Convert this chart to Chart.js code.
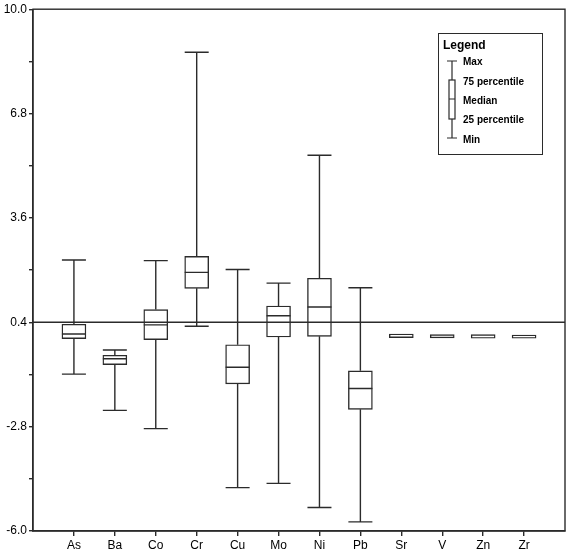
<!DOCTYPE html>
<html>
<head>
<meta charset="utf-8">
<script src="https://cdn.jsdelivr.net/npm/chart.js@4.4.0/dist/chart.umd.min.js"></script>
<style>
  body { margin: 0; background: #fff; }
  #wrap { width: 567px; height: 553px; }
</style>
</head>
<body>
<div id="wrap"><canvas id="myChart"></canvas></div>
<script>
// box plot values
var categories = ["As", "Ba", "Co", "Cr", "Cu", "Mo", "Ni", "Pb", "Sr", "V", "Zn", "Zr"];
var minVals    = [-1.19, -2.30, -2.86, 0.28, -4.67, -4.54, -5.28, -5.72, -0.07, -0.08, -0.09, -0.09];
var q1Vals     = [-0.10, -0.90, -0.13, 1.44, -1.49, -0.05, -0.03, -2.27, -0.07, -0.08, -0.09, -0.09];
var medianVals = [0.04, -0.72, 0.32, 1.93, -0.98, 0.60, 0.87, -1.63, -0.02, -0.03, -0.04, -0.04];
var q3Vals     = [0.34, -0.61, 0.79, 2.42, -0.29, 0.90, 1.75, -1.09, 0.04, 0.02, 0.02, 0.01];
var maxVals    = [2.31, -0.45, 2.29, 8.68, 2.02, 1.60, 5.52, 1.46, 0.04, 0.02, 0.02, 0.01];

var refValue = 0.4;
var yTicks = [-6.0, -4.4, -2.8, -1.2, 0.4, 2.0, 3.6, 5.2, 6.8, 8.4, 10.0];
var yTickLabels = [-6.0, -2.8, 0.4, 3.6, 6.8, 10.0];

var legendLabels = ["Max", "75 percentile", "Median", "25 percentile", "Min"];

var lineColor = "#2b2b2b";

var boxData = categories.map(function(c, i) {
  return { x: i, y: [q1Vals[i], q3Vals[i]] };
});

// whiskers, caps and median lines
var whiskerPlugin = {
  id: "whiskers",
  afterDatasetsDraw: function(chart) {
    var ctx = chart.ctx;
    var xs = chart.scales.x, ys = chart.scales.y;
    var half = 12;
    ctx.save();
    ctx.strokeStyle = lineColor;
    ctx.lineWidth = 1.4;
    for (var i = 0; i < categories.length; i++) {
      var x = xs.getPixelForValue(i);
      var yMax = ys.getPixelForValue(maxVals[i]);
      var yQ3 = ys.getPixelForValue(q3Vals[i]);
      var yQ1 = ys.getPixelForValue(q1Vals[i]);
      var yMin = ys.getPixelForValue(minVals[i]);
      var yMed = ys.getPixelForValue(medianVals[i]);
      ctx.beginPath();
      if (yQ3 - yMax > 1) {
        ctx.moveTo(x, yMax); ctx.lineTo(x, yQ3);
        ctx.moveTo(x - half, yMax); ctx.lineTo(x + half, yMax);
      }
      if (yMin - yQ1 > 1) {
        ctx.moveTo(x, yQ1); ctx.lineTo(x, yMin);
        ctx.moveTo(x - half, yMin); ctx.lineTo(x + half, yMin);
      }
      if (yQ1 - yQ3 > 6) {
        ctx.moveTo(x - half, yMed); ctx.lineTo(x + half, yMed);
      }
      ctx.stroke();
    }
    ctx.restore();
  }
};

// frame round the plot and the legend box
var framePlugin = {
  id: "frame",
  afterDraw: function(chart) {
    var ctx = chart.ctx;
    var a = chart.chartArea;
    ctx.save();
    ctx.strokeStyle = lineColor;
    ctx.lineWidth = 1.4;
    ctx.strokeRect(a.left, a.top, a.right - a.left, a.bottom - a.top);

    // legend
    var lx = 438, ly = 33, lw = 104, lh = 121;
    ctx.fillStyle = "#fff";
    ctx.fillRect(lx, ly, lw, lh);
    ctx.lineWidth = 1;
    ctx.strokeRect(lx + 0.5, ly + 0.5, lw, lh);
    ctx.fillStyle = "#000";
    ctx.textBaseline = "middle";
    ctx.font = "bold 12px 'Liberation Sans', Arial, sans-serif";
    ctx.fillText("Legend", 443, 46);

    var cx = 452;
    ctx.lineWidth = 1.2;
    ctx.beginPath();
    ctx.moveTo(cx - 5, 61); ctx.lineTo(cx + 5, 61);
    ctx.moveTo(cx, 61); ctx.lineTo(cx, 80);
    ctx.moveTo(cx, 119); ctx.lineTo(cx, 138);
    ctx.moveTo(cx - 5, 138); ctx.lineTo(cx + 5, 138);
    ctx.moveTo(cx - 3, 99); ctx.lineTo(cx + 3, 99);
    ctx.stroke();
    ctx.strokeRect(cx - 3, 80, 6, 39);

    ctx.font = "bold 10px 'Liberation Sans', Arial, sans-serif";
    var ly2 = [62, 82, 101, 120, 140];
    for (var k = 0; k < legendLabels.length; k++) {
      ctx.fillText(legendLabels[k], 463, ly2[k]);
    }
    ctx.restore();
  }
};

var ctx = document.getElementById("myChart");

var chart = new Chart(ctx, {
  data: {
    datasets: [
      {
        type: "line",
        data: [{ x: -1, y: refValue }, { x: 12, y: refValue }],
        borderColor: lineColor,
        borderWidth: 1.4,
        pointRadius: 0,
        order: 0
      },
      {
        type: "bar",
        data: boxData,
        backgroundColor: "#fff",
        borderColor: lineColor,
        borderWidth: 1.4,
        borderSkipped: false,
        barThickness: 24,
        order: 1
      }
    ]
  },
  options: {
    responsive: true,
    maintainAspectRatio: false,
    animation: false,
    layout: { padding: { top: 4, right: 2, left: 0, bottom: 0 } },
    plugins: {
      legend: { display: false },
      tooltip: { enabled: false }
    },
    scales: {
      x: {
        type: "linear",
        min: -1,
        max: 12,
        offset: false,
        afterBuildTicks: function(scale) {
          scale.ticks = categories.map(function(c, i) { return { value: i }; });
        },
        afterFit: function(scale) { scale.height = 22; },
        ticks: {
          autoSkip: false,
          maxRotation: 0,
          padding: 2,
          color: "#000",
          font: { family: "'Liberation Sans', Arial, sans-serif", size: 12 },
          callback: function(value) { return categories[value]; }
        },
        grid: {
          offset: false,
          drawOnChartArea: false,
          drawTicks: true,
          tickLength: 5,
          color: lineColor,
          lineWidth: 1.4
        },
        border: { display: true, color: lineColor, width: 1.4 }
      },
      y: {
        type: "linear",
        min: -6,
        max: 10,
        afterBuildTicks: function(scale) {
          scale.ticks = yTicks.map(function(v) { return { value: v }; });
        },
        afterFit: function(scale) { scale.width = 33; },
        ticks: {
          autoSkip: false,
          padding: 2,
          color: "#000",
          font: { family: "'Liberation Sans', Arial, sans-serif", size: 12 },
          callback: function(value) {
            for (var i = 0; i < yTickLabels.length; i++) {
              if (Math.abs(yTickLabels[i] - value) < 1e-6) return yTickLabels[i].toFixed(1);
            }
            return "";
          }
        },
        grid: {
          drawOnChartArea: false,
          drawTicks: true,
          tickLength: 4,
          color: lineColor,
          lineWidth: 1.4
        },
        border: { display: true, color: lineColor, width: 1.4 }
      }
    }
  },
  plugins: [whiskerPlugin, framePlugin]
});
</script>
</body>
</html>
